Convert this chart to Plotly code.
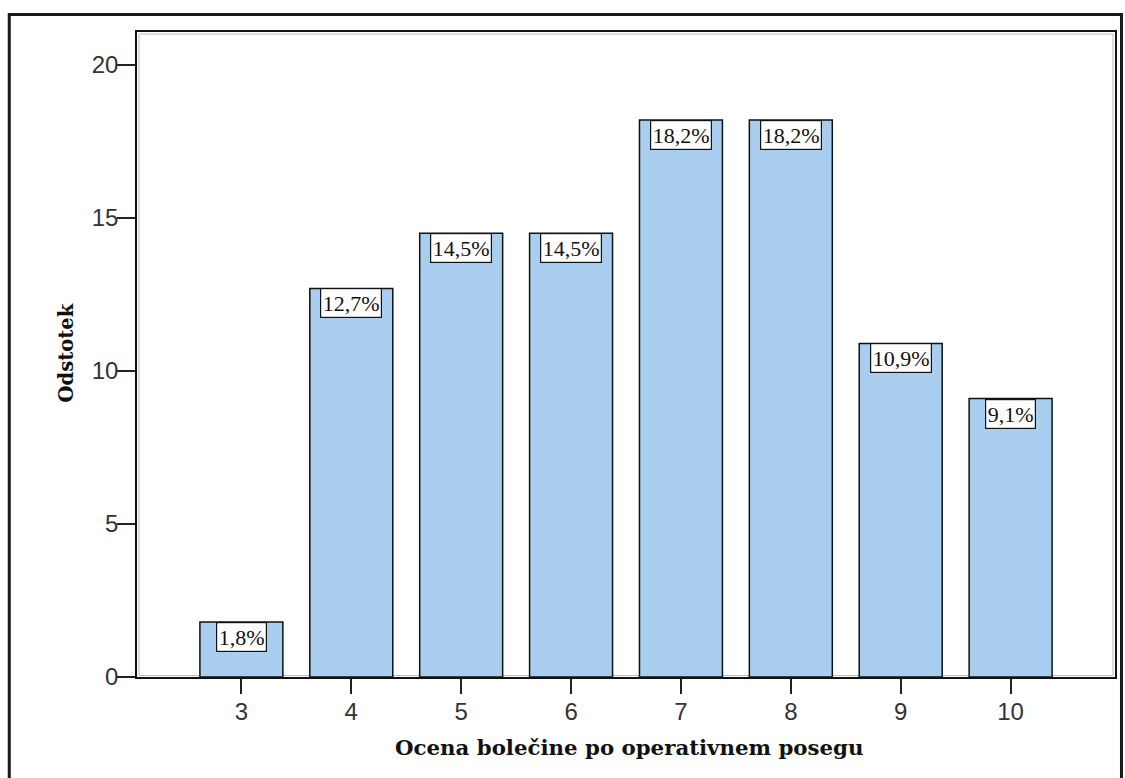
import plotly.graph_objects as go

# Data
categories = [3, 4, 5, 6, 7, 8, 9, 10]
percent = [1.8, 12.7, 14.5, 14.5, 18.2, 18.2, 10.9, 9.1]
y_ticks = [0, 5, 10, 15, 20]
x_title = "Ocena bolečine po operativnem posegu"
y_title = "Odstotek"

labels = [f"{v:.1f}".replace(".", ",") + "%" for v in percent]

W, H = 1125, 778
L, R, T, B = 137, 8, 32, 100.5
pw, ph = W - L - R, H - T - B

def px_x(px):
    return (px - L) / pw

def px_y(py):
    return (H - B - py) / ph

fig = go.Figure()
fig.add_trace(go.Bar(
    x=categories, y=percent, width=0.755,
    marker=dict(color="#A8CDEE", line=dict(color="#111111", width=1.5)),
    hoverinfo="skip",
))

annotations = []
for c, v, t in zip(categories, percent, labels):
    annotations.append(dict(
        x=c, y=v, xref="x", yref="y", text=t, showarrow=False,
        yanchor="top", xanchor="center",
        font=dict(family="Liberation Serif", size=22, color="#111111"),
        bgcolor="white", bordercolor="#111111", borderwidth=1.2, borderpad=1.5,
    ))

annotations.append(dict(
    x=px_x(630), y=px_y(748), xref="paper", yref="paper", text=f"<b>{x_title}</b>",
    showarrow=False, xanchor="center", yanchor="middle",
    font=dict(family="DejaVu Serif", size=21.3, color="#111111"),
))
annotations.append(dict(
    x=px_x(66), y=px_y(353.5), xref="paper", yref="paper", text=f"<b>{y_title}</b>",
    showarrow=False, xanchor="center", yanchor="middle", textangle=-90,
    font=dict(family="DejaVu Serif", size=19.5, color="#111111"),
))

shapes = [
    # outer frame
    dict(type="rect", xref="paper", yref="paper",
         x0=px_x(9), x1=px_x(1123.5), y0=px_y(800), y1=px_y(14.5),
         line=dict(color="#1a1a1a", width=3), layer="above"),
    # inner shadow line
    dict(type="rect", xref="paper", yref="paper",
         x0=px_x(139), x1=px_x(1115), y0=px_y(676), y1=px_y(34),
         line=dict(color="#bbbbbb", width=1), layer="below"),
]

fig.update_layout(
    width=W, height=H,
    margin=dict(l=L, r=R, t=T, b=B),
    paper_bgcolor="white", plot_bgcolor="white",
    showlegend=False,
    annotations=annotations, shapes=shapes,
    font=dict(family="Liberation Sans", color="#333333"),
)
fig.update_xaxes(
    range=[2.05, 10.95], tickvals=categories, ticktext=[str(c) for c in categories],
    ticks="outside", ticklen=15, tickwidth=1.5, tickcolor="#222222",
    showline=True, linecolor="#111111", linewidth=1.5, mirror=True,
    showgrid=False, zeroline=False, ticklabelstandoff=-3,
    tickfont=dict(family="Liberation Sans", size=24, color="#333333"),
)
fig.update_yaxes(
    range=[0, 21.08], tickvals=y_ticks,
    ticks="outside", ticklen=18, tickwidth=1.5, tickcolor="#222222",
    showline=True, linecolor="#111111", linewidth=1.5, mirror=True,
    showgrid=False, zeroline=False, ticklabelstandoff=-6,
    tickfont=dict(family="Liberation Sans", size=24, color="#333333"),
)

fig.write_html("out.html")
